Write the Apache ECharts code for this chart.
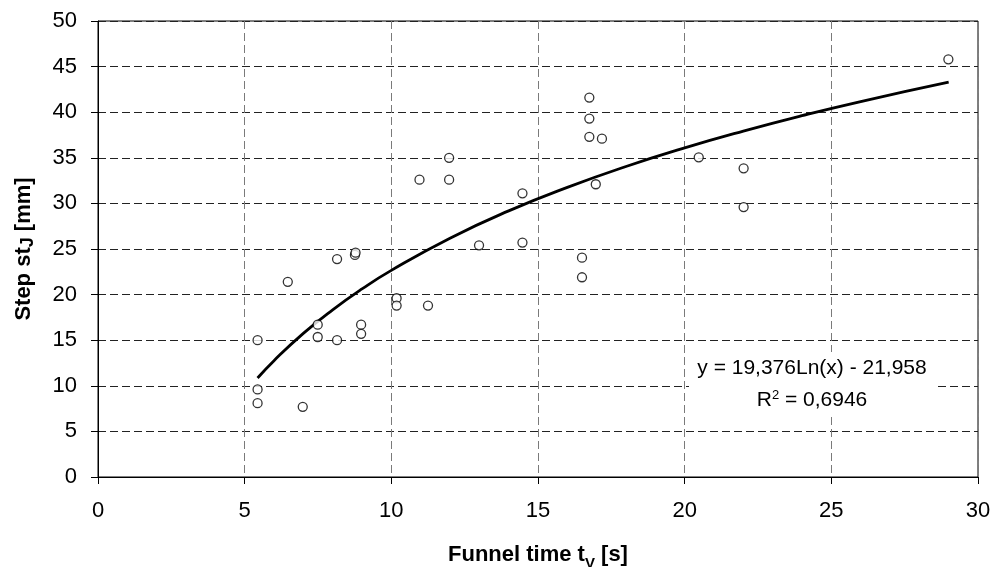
<!DOCTYPE html>
<html>
<head>
<meta charset="utf-8">
<script src="https://cdn.jsdelivr.net/npm/echarts@6/dist/echarts.min.js"></script>
<style>
  html, body { margin: 0; padding: 0; background: #fff; }
  #chart { width: 997px; height: 567px; }
</style>
</head>
<body>
<div id="chart"></div>
<script>
// measured points: funnel time [s] / step [mm]
const funnelTime = [
  5.44, 5.44, 5.44, 6.47, 6.98, 7.49, 7.49, 8.15, 8.15, 8.76, 8.78,
  8.97, 8.97, 10.18, 10.18, 10.96, 11.25, 11.97, 11.97, 12.99, 14.47,
  14.47, 16.5, 16.5, 16.75, 16.75, 16.75, 16.97, 17.18, 20.48, 22.01,
  22.01, 28.99
]
const stepValues = [
  15.0, 9.6, 8.1, 21.4, 7.7, 16.7, 15.35, 23.9, 15.0, 24.35, 24.6,
  16.7, 15.7, 19.6, 18.8, 32.6, 18.8, 35.0, 32.6, 25.4, 31.1,
  25.7, 24.05, 21.9, 41.6, 39.3, 37.3, 32.1, 37.1, 35.05, 33.85,
  29.6, 45.8
]

// logarithmic trend line
const trendX = [5.44, 6, 7, 8, 9, 10, 12, 14, 16, 18, 20, 22, 24, 26, 29]
const trendY = [10.86, 12.76, 15.75, 18.33, 20.62, 22.66, 26.19, 29.18, 31.76, 34.05, 36.09, 37.93, 39.62, 41.17, 43.29]

const equationLine = 'y = 19,376Ln(x) - 21,958'
const rSquaredLine = 'R{sup|2} = 0,6946'

const chart = echarts.init(document.getElementById('chart'))
const font = 'Liberation Sans, Arial, sans-serif'

const titleRich = (subSize, drop) => ({
  b: { fontSize: 22, fontWeight: 'bold', color: '#000', fontFamily: font, lineHeight: 26, verticalAlign: 'bottom' },
  sub: { fontSize: subSize, fontWeight: 'bold', color: '#000', fontFamily: font, lineHeight: 26, verticalAlign: 'bottom', padding: [0, 0, -drop, 0] },
})

chart.setOption({
  animation: false,
  textStyle: { fontFamily: font },
  grid: {
    left: 98,
    right: 19,
    top: 21,
    bottom: 90,
    outerBoundsMode: 'none',
    show: true,
    borderColor: '#000',
    borderWidth: 1,
  },
  xAxis: {
    type: 'value',
    min: 0,
    max: 30,
    interval: 5,
    name: '{b|Funnel time t}{sub|V}{b| [s]}',
    nameLocation: 'middle',
    nameGap: 63,
    nameTextStyle: { rich: titleRich(15, 5) },
    axisLine: { lineStyle: { color: '#000', width: 1 } },
    axisTick: { show: true, length: 7, lineStyle: { color: '#000' } },
    axisLabel: { color: '#000', fontSize: 22, margin: 23, fontFamily: font },
    splitLine: { show: true, lineStyle: { color: '#7a7a7a', type: [8, 4], width: 1 } },
  },
  yAxis: {
    type: 'value',
    min: 0,
    max: 50,
    interval: 5,
    name: '{b|Step st}{sub|J}{b| [mm]}',
    nameLocation: 'middle',
    nameRotate: 90,
    nameGap: 63,
    nameTextStyle: { rich: titleRich(18, 2) },
    axisLine: { show: true, lineStyle: { color: '#000', width: 1 } },
    axisTick: { show: true, length: 7, lineStyle: { color: '#000' } },
    axisLabel: { color: '#000', fontSize: 22, margin: 21, fontFamily: font },
    splitLine: { show: true, lineStyle: { color: '#222', type: [8, 4], width: 1 } },
  },
  series: [
    {
      type: 'line',
      data: trendX.map((x, i) => [x, trendY[i]]),
      smooth: true,
      showSymbol: false,
      lineStyle: { color: '#000', width: 2.8 },
      z: 2,
    },
    {
      type: 'scatter',
      data: funnelTime.map((x, i) => [x, stepValues[i]]),
      symbol: 'circle',
      symbolSize: 9,
      itemStyle: { color: '#fff', borderColor: '#000', borderWidth: 1.3 },
      z: 3,
    },
  ],
  graphic: [
    {
      type: 'rect',
      shape: { x: 689, y: 352, width: 248, height: 64 },
      style: { fill: '#fff' },
      z: 9,
    },
    {
      type: 'text',
      x: 812,
      y: 368,
      style: {
        text: equationLine,
        fill: '#000',
        font: '21px ' + font,
        align: 'center',
        verticalAlign: 'middle',
      },
      z: 10,
    },
    {
      type: 'text',
      x: 812,
      y: 400,
      style: {
        text: rSquaredLine,
        fill: '#000',
        font: '21px ' + font,
        align: 'center',
        verticalAlign: 'middle',
        rich: {
          sup: { fontSize: 13, verticalAlign: 'top', padding: [0, 0, 10, 0], fill: '#000', fontFamily: font },
        },
      },
      z: 10,
    },
  ],
})
</script>
</body>
</html>
